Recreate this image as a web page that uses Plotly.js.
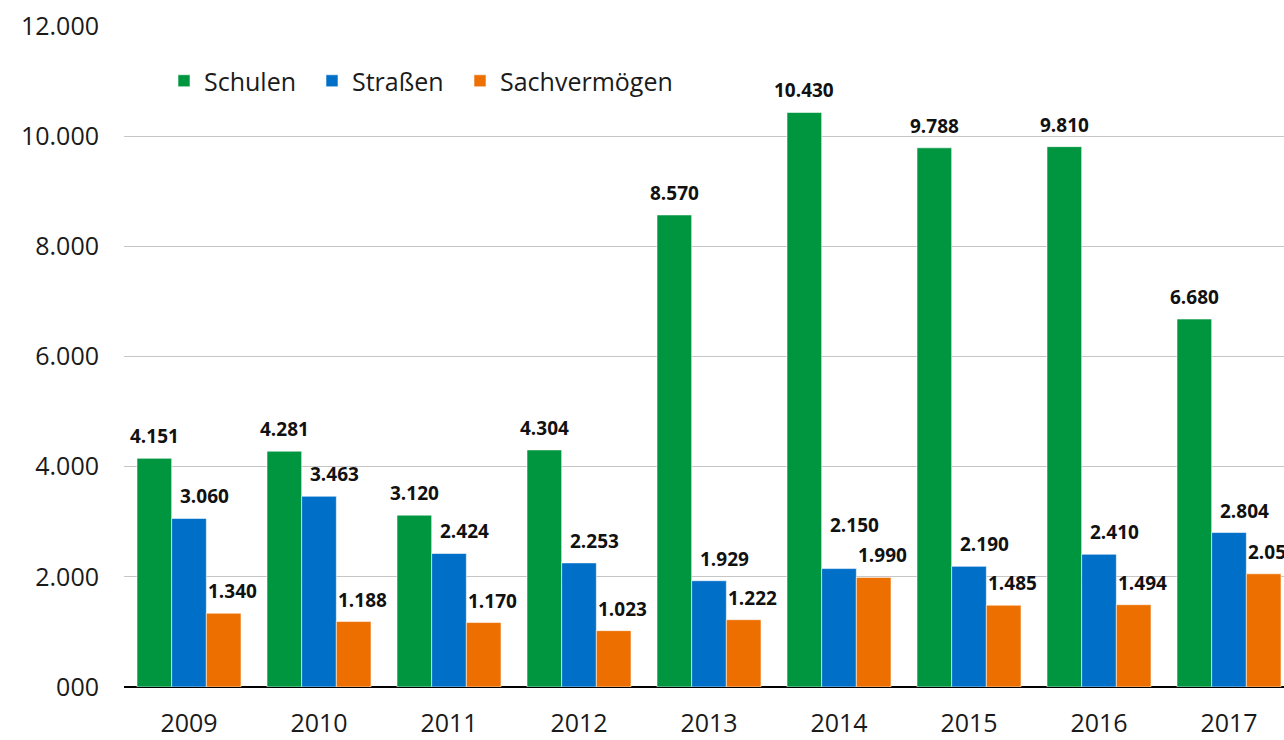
<!DOCTYPE html>
<html><head><meta charset="utf-8">
<script src="https://cdn.plot.ly/plotly-3.0.1.min.js"></script>
<style>html,body{margin:0;padding:0;background:#fff}#c{width:1284px;height:740px}</style>
</head><body><div id="c"></div>
<script>
const years = ['2009','2010','2011','2012','2013','2014','2015','2016','2017'];
const schulen = [4151,4281,3120,4304,8570,10430,9788,9810,6680];
const strassen = [3060,3463,2424,2253,1929,2150,2190,2410,2804];
const sachverm = [1340,1188,1170,1023,1222,1990,1485,1494,2055];
const seriesNames = ['Schulen','Straßen','Sachvermögen'];
const seriesColors = ['#00963f','#006fc8','#ec6f00'];
const yTickVals = [0,2000,4000,6000,8000,10000,12000];
const yTickText = ['000','2.000','4.000','6.000','8.000','10.000','12.000'];

const seriesData = [schulen, strassen, sachverm];
const labelXShift = [0, 15, 9];
const legendLeftPx = [164, 312, 460];
const fmt = v => v >= 1000 ? Math.floor(v/1000) + '.' + String(v%1000).padStart(3,'0') : String(v);

const W = 1284, H = 740, mL = 124, mR = 0, mT = 26, mB = 53;
const plotH = H - mT - mB;
const yMax = 12000;
const pxPerUnit = plotH / yMax;
const legendKeys = ['legend','legend2','legend3'];

const traces = seriesData.map((vals,k) => ({
  type:'bar', name: seriesNames[k], x: years, y: vals, legend: legendKeys[k],
  marker:{color: seriesColors[k], line:{color:'rgba(255,255,255,0.7)', width:0.8}},
  hoverinfo:'x+y'
}));

const nSeries = seriesData.length;
const barW = 0.8 / nSeries;
const baseShift = 22;
const annotations = [];
seriesData.forEach((vals,k) => {
  vals.forEach((v,i) => {
    let ys = baseShift;
    // lift a label when the next series' label would sit on top of it
    if (k < nSeries - 1) {
      const nextV = seriesData[k+1][i];
      const gapPx = (v - nextV) * pxPerUnit;
      if (gapPx < 30) ys = baseShift + 22;
    }
    annotations.push({
      x: i + (k - (nSeries-1)/2) * barW, y: v, xref:'x', yref:'y',
      text: fmt(v), showarrow:false, yanchor:'middle', yshift: ys, xshift: labelXShift[k],
      font:{family:'Open Sans', size:19, color:'#111', weight:700}
    });
  });
});

const legendCommon = {orientation:'h', xref:'container', yref:'paper', y:1-(81-mT)/plotH,
  xanchor:'left', yanchor:'middle', font:{family:'Open Sans', size:25, color:'#1a1a1a'},
  bgcolor:'rgba(0,0,0,0)', itemwidth:30};

const layout = {
  width:W, height:H,
  margin:{l:mL, r:mR, t:mT, b:mB, autoexpand:false},
  paper_bgcolor:'#fff', plot_bgcolor:'#fff',
  font:{family:'Open Sans', size:25, color:'#1a1a1a'},
  barmode:'group', bargap:0.2, bargroupgap:0,
  showlegend:true,
  legend: Object.assign({}, legendCommon, {x: legendLeftPx[0]/W}),
  legend2: Object.assign({}, legendCommon, {x: legendLeftPx[1]/W}),
  legend3: Object.assign({}, legendCommon, {x: legendLeftPx[2]/W}),
  xaxis:{type:'category', range:[-0.5, -0.5 + (W-mL)/130], showgrid:false, showline:false,
    ticks:'', ticklabelstandoff:19, tickfont:{size:25}, fixedrange:true, zeroline:false},
  yaxis:{range:[0,yMax], tickvals:yTickVals, ticktext:yTickText, showgrid:true, gridcolor:'#c6c6c6', gridwidth:1,
    zeroline:true, zerolinecolor:'#000', zerolinewidth:1.5, showline:false, ticks:'', ticklabelstandoff:24,
    tickfont:{size:25}, fixedrange:true},
  annotations: annotations
};
Plotly.newPlot('c', traces, layout, {staticPlot:true, displayModeBar:false});
</script></body></html>
